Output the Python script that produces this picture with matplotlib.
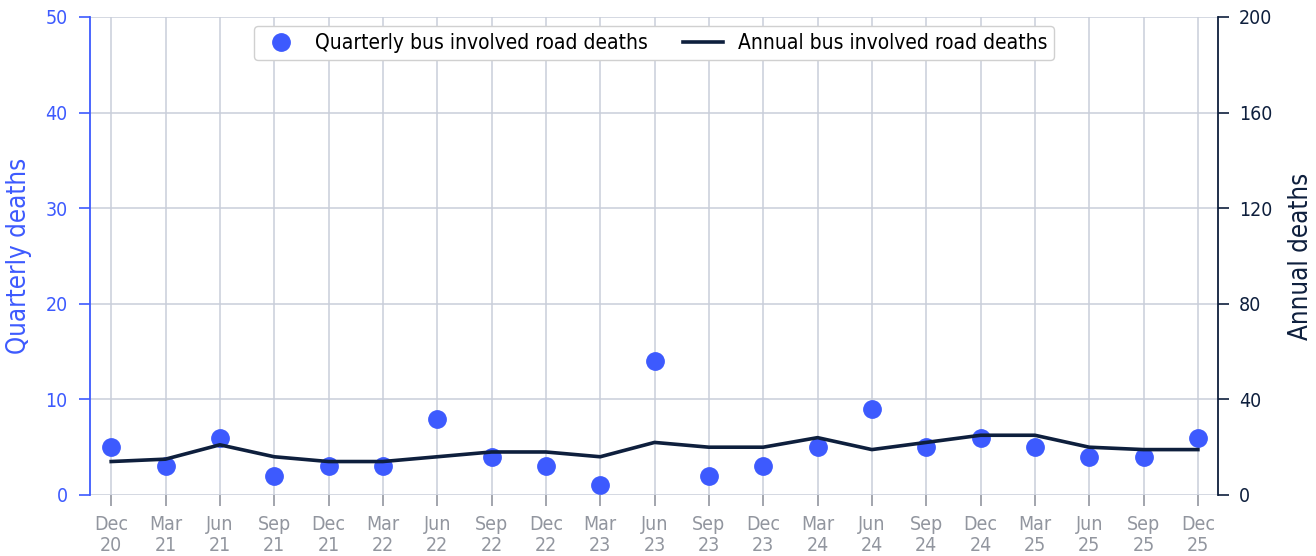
import matplotlib
matplotlib.use("Agg")
import matplotlib.pyplot as plt
import numpy as np

plt.rcParams["font.family"] = ["DejaVu Sans"]
plt.rcParams["font.stretch"] = "condensed"

quarters = ["Dec\n20", "Mar\n21", "Jun\n21", "Sep\n21", "Dec\n21", "Mar\n22", "Jun\n22",
            "Sep\n22", "Dec\n22", "Mar\n23", "Jun\n23", "Sep\n23", "Dec\n23", "Mar\n24",
            "Jun\n24", "Sep\n24", "Dec\n24", "Mar\n25", "Jun\n25", "Sep\n25", "Dec\n25"]
quarterly_deaths = [5, 3, 6, 2, 3, 3, 8, 4, 3, 1, 14, 2, 3, 5, 9, 5, 6, 5, 4, 4, 6]
annual_deaths = [14, 15, 21, 16, 14, 14, 16, 18, 18, 16, 22, 20, 20, 24, 19, 22, 25, 25, 20, 19, 19]

BLUE = "#3d5afe"
NAVY = "#0e1f3d"
GRID = "#c9ceda"
TICKGRAY = "#92969f"

fig = plt.figure(figsize=(13.16, 5.56), dpi=100)
ax = fig.add_axes([90/1316, 1-495/556, (1218-90)/1316, (495-17)/556])
ax2 = ax.twinx()

x = np.arange(len(quarters))
ax.plot(x, quarterly_deaths, "o", color=BLUE, markersize=12.5, zorder=3,
        label="Quarterly bus involved road deaths")
ax2.plot(x, annual_deaths, "-", color=NAVY, linewidth=2.6, zorder=3,
         label="Annual bus involved road deaths")

ax.set_xlim(-0.39, len(quarters) - 1 + 0.37)
ax.set_ylim(0, 50)
ax2.set_ylim(0, 200)
ax.set_yticks([0, 10, 20, 30, 40, 50])
ax2.set_yticks([0, 40, 80, 120, 160, 200])
ax.set_xticks(x)
ax.set_xticklabels(quarters, linespacing=1.15)

ax.grid(True, color=GRID, linewidth=1.1)
ax.set_axisbelow(True)
ax2.set_zorder(ax.get_zorder() + 1)
ax2.patch.set_visible(False)

for a in (ax, ax2):
    a.spines["top"].set_visible(False)
    a.spines["bottom"].set_visible(False)
ax.spines["right"].set_visible(False)
ax2.spines["left"].set_visible(False)
ax.spines["left"].set_color(BLUE)
ax.spines["left"].set_linewidth(1.3)
ax2.spines["right"].set_color(NAVY)
ax2.spines["right"].set_linewidth(1.3)

ax.tick_params(axis="y", colors=BLUE, labelsize=14, length=8, width=1.2, pad=8)
ax2.tick_params(axis="y", colors=NAVY, labelsize=14, length=8, width=1.2, pad=7)
ax.tick_params(axis="x", colors=TICKGRAY, labelsize=14, length=8, width=1.2, pad=6.5)

ax.set_ylabel("Quarterly deaths", color=BLUE, fontsize=18.5)
ax2.set_ylabel("Annual deaths", color=NAVY, fontsize=18.5)
ax.yaxis.set_label_coords((32 - 90) / 1128, 0.5)
ax2.yaxis.set_label_coords((1288 - 90) / 1128, 0.5)

h1, l1 = ax.get_legend_handles_labels()
h2, l2 = ax2.get_legend_handles_labels()
leg = ax2.legend(h1 + h2, l1 + l2, loc="upper center", ncol=2, fontsize=15,
                 frameon=True, bbox_to_anchor=(0.5, 1.004), columnspacing=1.7,
                 handlelength=1.9, handletextpad=0.7, borderpad=0.35, fancybox=True)
leg.get_frame().set_edgecolor("#d0d0d0")
leg.get_frame().set_alpha(1)

fig.savefig("out.png", dpi=100)
